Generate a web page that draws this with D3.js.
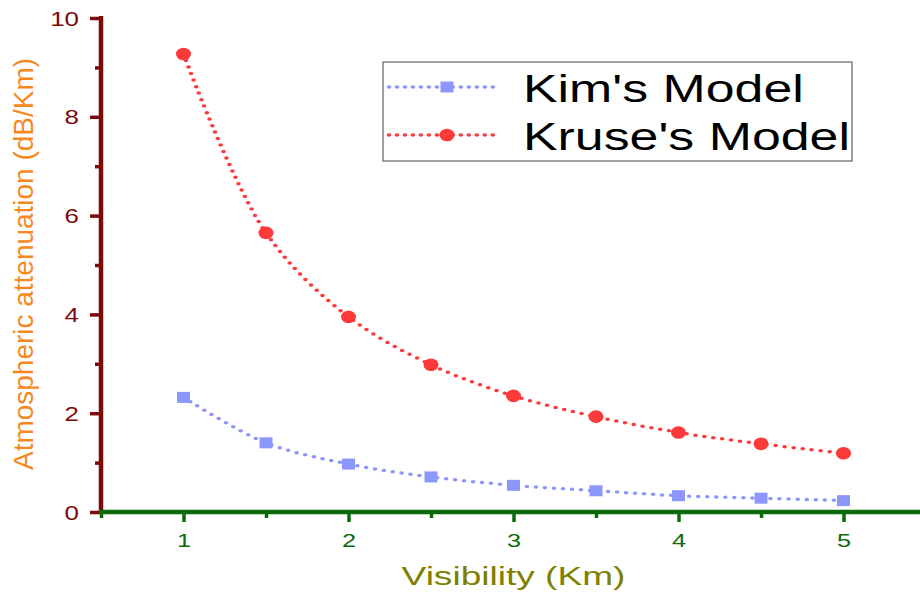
<!DOCTYPE html>
<html>
<head>
<meta charset="utf-8">
<script src="https://cdn.jsdelivr.net/npm/d3@7/dist/d3.min.js"></script>
<style>
  html, body { margin: 0; padding: 0; background: #fff; }
  svg { display: block; }
  text { font-family: "Liberation Sans", Arial, sans-serif; }
</style>
</head>
<body>
<svg id="chart" width="920" height="596"></svg>
<script>
// Visibility (km) and atmospheric attenuation (dB/km) for the two fog models
const visibility = [1, 1.5, 2, 2.5, 3, 3.5, 4, 4.5, 5];
const kimModel   = [2.32, 1.40, 0.97, 0.71, 0.54, 0.43, 0.33, 0.28, 0.23];
const kruseModel = [9.27, 5.65, 3.95, 2.98, 2.35, 1.93, 1.61, 1.38, 1.19];

const xMajorTicks = [1, 2, 3, 4, 5];
const xMinorTicks = [0.5, 1.5, 2.5, 3.5, 4.5, 5.5];
const yMajorTicks = [0, 2, 4, 6, 8, 10];
const yMinorTicks = [1, 3, 5, 7, 9];

const seriesNames = ["Kim's Model", "Kruse's Model"];
const xTitle = "Visibility (Km)";
const yTitle = "Atmospheric attenuation (dB/Km)";

const svg = d3.select("#chart");
const SX = 1.33; // horizontal stretch of glyphs and dotted strokes

const x = d3.scaleLinear().domain([0.5, 5.5]).range([101, 926]);
const y = d3.scaleLinear().domain([0, 10]).range([512, 18]);
// same x mapping, expressed in the horizontally stretched frame
const xs = d3.scaleLinear().domain(x.domain()).range(x.range().map(v => v / SX));

const yColor = "#7d0a0a";
const xColor = "#0b6b0b";
const fmt = d3.format("d");

// Y axis: minor ticks, then major ticks with labels
svg.append("g").attr("transform", `translate(${x(0.5)},0)`)
  .call(d3.axisLeft(y).tickValues(yMinorTicks).tickSize(6).tickFormat(""))
  .call(g => g.select(".domain").remove())
  .call(g => g.selectAll("line").attr("stroke", yColor).attr("stroke-width", 3.5));

const yAx = svg.append("g").attr("transform", `translate(${x(0.5)},0)`)
  .call(d3.axisLeft(y).tickValues(yMajorTicks).tickSize(11).tickSizeOuter(0).tickFormat(""));
yAx.select(".domain").attr("stroke", yColor).attr("stroke-width", 4.5)
  .attr("d", `M0,${y(10) - 2}V${y(0) + 2}`);
yAx.selectAll(".tick line").attr("stroke", yColor).attr("stroke-width", 3.5);
yAx.selectAll(".tick text").remove();
yAx.selectAll(".tick").append("text")
  .attr("transform", `translate(-22,0) scale(${SX},1)`)
  .attr("text-anchor", "end")
  .attr("dy", "0.36em")
  .attr("fill", yColor)
  .style("font-size", "19.5px")
  .text(d => fmt(d));

// X axis: minor ticks, then major ticks with labels
svg.append("g").attr("transform", `translate(0,${y(0)})`)
  .call(d3.axisBottom(x).tickValues(xMinorTicks).tickSize(6).tickFormat(""))
  .call(g => g.select(".domain").remove())
  .call(g => g.selectAll("line").attr("stroke", xColor).attr("stroke-width", 3.5));

const xAx = svg.append("g").attr("transform", `translate(0,${y(0)})`)
  .call(d3.axisBottom(x).tickValues(xMajorTicks).tickSize(10).tickSizeOuter(0).tickFormat(""));
xAx.select(".domain").attr("stroke", xColor).attr("stroke-width", 4.5)
  .attr("d", `M${x(0.5) - 2},0H${x(5.5)}`);
xAx.selectAll(".tick line").attr("stroke", xColor).attr("stroke-width", 3.5);
xAx.selectAll(".tick text").remove();
xAx.selectAll(".tick").append("text")
  .attr("transform", `translate(0,35) scale(${SX},1)`)
  .attr("text-anchor", "middle")
  .attr("fill", xColor)
  .style("font-size", "19px")
  .text(d => fmt(d));

// Axis titles
svg.append("text")
  .attr("transform", `translate(${x(3)},585) scale(1.4,1)`)
  .attr("text-anchor", "middle")
  .style("font-size", "26.5px")
  .attr("fill", "#7f7f00")
  .text(xTitle);

svg.append("text")
  .attr("transform", "translate(33,264) rotate(-90)")
  .attr("text-anchor", "middle")
  .style("font-size", "28px")
  .attr("textLength", 412)
  .attr("lengthAdjust", "spacingAndGlyphs")
  .attr("fill", "#f5891f")
  .text(yTitle);

// Series
const series = [
  { name: seriesNames[0], values: kimModel,   color: "#8d96fb", marker: "square" },
  { name: seriesNames[1], values: kruseModel, color: "#fc3a3a", marker: "circle" }
];

// dotted curves are laid out in the stretched frame so the dots spread like the glyphs
const line = d3.line()
  .x((d, i) => xs(visibility[i]))
  .y(d => y(d))
  .curve(d3.curveCatmullRom.alpha(0.5));

function drawMarker(g, kind, cx, cy, color) {
  if (kind === "square") {
    g.append("rect").attr("x", cx - 6.5).attr("y", cy - 5.5)
      .attr("width", 13).attr("height", 11).attr("fill", color);
  } else {
    g.append("ellipse").attr("cx", cx).attr("cy", cy)
      .attr("rx", 7.5).attr("ry", 6.3).attr("fill", color);
  }
}

series.forEach(s => {
  svg.append("g").attr("transform", `scale(${SX},1)`)
    .append("path")
    .attr("d", line(s.values))
    .attr("fill", "none")
    .attr("stroke", s.color)
    .attr("stroke-width", 3.5)
    .attr("stroke-linecap", "round")
    .attr("stroke-dasharray", "0 6.8");
  const mg = svg.append("g");
  s.values.forEach((v, i) => drawMarker(mg, s.marker, x(visibility[i]), y(v), s.color));
});

// Legend
const legend = svg.append("g");
legend.append("rect")
  .attr("x", 383).attr("y", 62).attr("width", 469).attr("height", 99)
  .attr("fill", "#fff").attr("stroke", "#6e6e6e").attr("stroke-width", 1.3);

const legendRows = [87, 135];
series.forEach((s, i) => {
  const ly = legendRows[i];
  legend.append("g").attr("transform", `scale(${SX},1)`)
    .append("line")
    .attr("x1", 389 / SX).attr("x2", 497 / SX).attr("y1", ly).attr("y2", ly)
    .attr("stroke", s.color).attr("stroke-width", 3.5)
    .attr("stroke-linecap", "round").attr("stroke-dasharray", "0 6");
  drawMarker(legend, s.marker, 447, ly, s.color);
  legend.append("text")
    .attr("transform", `translate(523,${ly + 15}) scale(${SX},1)`)
    .style("font-size", "39px")
    .attr("fill", "#000")
    .text(s.name);
});
</script>
</body>
</html>
